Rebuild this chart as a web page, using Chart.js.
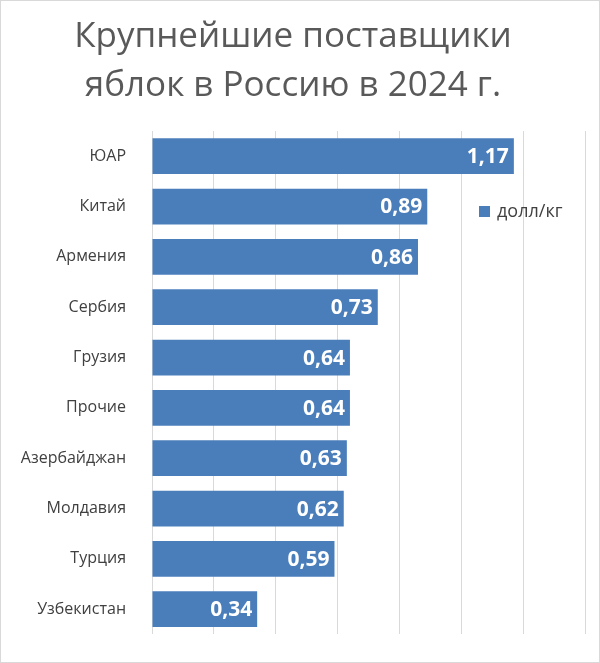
<!DOCTYPE html>
<html>
<head>
<meta charset="utf-8">
<script src="https://cdn.jsdelivr.net/npm/chart.js@4"></script>
<style>
  html, body { margin: 0; padding: 0; background: #fff; }
  #wrap { width: 598px; height: 661px; border: 1px solid #d9d9d9; }
</style>
</head>
<body>
<div id="wrap"><canvas id="chart" width="598" height="661"></canvas></div>
<script>
const countries = ["ЮАР", "Китай", "Армения", "Сербия", "Грузия", "Прочие", "Азербайджан", "Молдавия", "Турция", "Узбекистан"];
const prices = [1.17, 0.89, 0.86, 0.73, 0.64, 0.64, 0.63, 0.62, 0.59, 0.34];
const seriesName = "долл/кг";
const titleLines = ["Крупнейшие поставщики", "яблок в Россию в 2024 г."];

const barColor = "#4a7ebb";

// value labels inside bar ends + legend at top right
const extras = {
  id: "extras",
  afterDatasetsDraw(chart) {
    const { ctx } = chart;
    const meta = chart.getDatasetMeta(0);
    ctx.save();
    ctx.font = "bold 21px 'Open Sans', sans-serif";
    ctx.fillStyle = "#fff";
    ctx.textAlign = "right";
    ctx.textBaseline = "middle";
    meta.data.forEach((bar, i) => {
      ctx.fillText(prices[i].toFixed(2).replace(".", ","), bar.x - 5, bar.y + 1);
    });
    ctx.fillStyle = barColor;
    ctx.fillRect(478, 205, 11, 11);
    ctx.fillStyle = "#404040";
    ctx.font = "18px 'Open Sans', sans-serif";
    ctx.textAlign = "left";
    ctx.fillText(seriesName, 496, 211);
    ctx.restore();
  },
};

new Chart(document.getElementById("chart"), {
  type: "bar",
  data: {
    labels: countries,
    datasets: [{ label: seriesName, data: prices, backgroundColor: barColor, categoryPercentage: 0.71, barPercentage: 1 }],
  },
  options: {
    indexAxis: "y",
    responsive: false,
    animation: false,
    layout: { padding: { left: 0, right: 14, bottom: 21 } },
    plugins: {
      legend: { display: false },
      tooltip: { enabled: false },
      title: {
        display: true,
        text: titleLines,
        color: "#595959",
        font: { family: "'Open Sans', sans-serif", size: 35, weight: "normal", lineHeight: 1.4 },
        padding: { top: 12, bottom: 20 },
      },
    },
    scales: {
      x: {
        min: 0,
        max: 1.4,
        ticks: { display: false, stepSize: 0.2 },
        grid: { color: "#d9d9d9", drawTicks: false },
        border: { display: false },
      },
      y: {
        grid: { display: false },
        border: { display: false },
        ticks: { color: "#404040", font: { family: "'Open Sans', sans-serif", size: 16 }, padding: 18 },
        afterFit(scale) { scale.width = 151; },
      },
    },
  },
  plugins: [extras],
});
</script>
</body>
</html>
